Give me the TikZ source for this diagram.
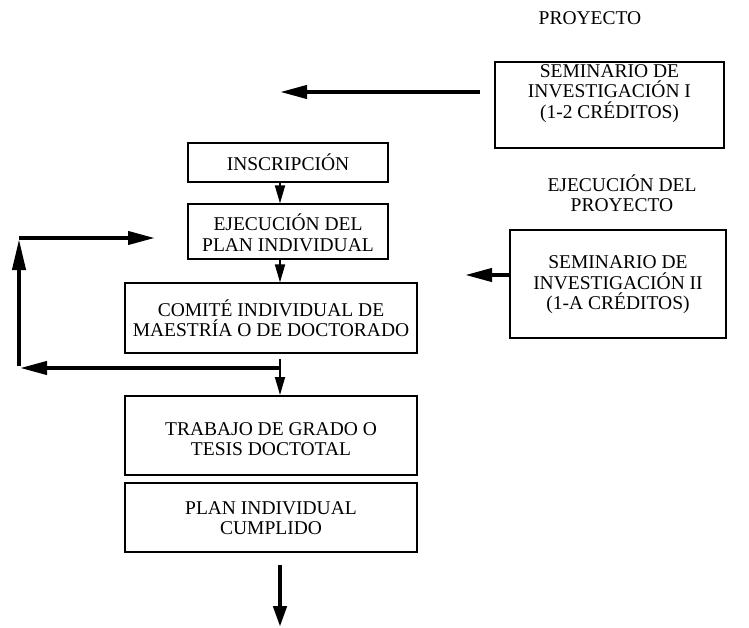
\documentclass[tikz,border=0pt]{standalone}
\usepackage{fontspec}
\setmainfont{Liberation Serif}
\usetikzlibrary{arrows.meta}
\begin{document}
\begin{tikzpicture}[x=1pt,y=-1pt,
  box/.style={draw,line width=1.2pt,inner sep=0pt},
  txt/.style={align=center,inner sep=0pt,font=\fontsize{19.5}{20.5}\selectfont},
  bigarrow/.style={line width=4pt,-{Triangle[length=27pt,width=13pt]}},
  smallarrow/.style={line width=1.8pt,-{Triangle[length=18pt,width=10pt]}},
  endarrow/.style={line width=4.5pt,-{Triangle[length=21pt,width=13pt]}}]
\useasboundingbox (0,0) rectangle (749,628);
% boxes
\node[box,minimum width=200pt,minimum height=39pt] (insc) at (288,162.5) {};
\node[txt] (insct) at (288,162.5) {INSCRIPCIÓN};
\node[box,minimum width=200pt,minimum height=55pt] (ejec) at (288,231.5) {};
\node[txt] (eject) at (288,233) {EJECUCIÓN DEL\\PLAN INDIVIDUAL};
\node[box,minimum width=292pt,minimum height=70pt] (comite) at (271,318) {};
\node[txt] (comitet) at (271,318) {COMITÉ INDIVIDUAL DE\\MAESTRÍA O DE DOCTORADO};
\node[box,minimum width=292pt,minimum height=79pt] (trab) at (271,435.5) {};
\node[txt] (trabt) at (271,439) {TRABAJO DE GRADO O\\TESIS DOCTOTAL};
\node[box,minimum width=292pt,minimum height=69pt] (plan) at (271,517.5) {};
\node[txt] (plant) at (271,518) {PLAN INDIVIDUAL\\CUMPLIDO};
\node[box,minimum width=229pt,minimum height=86pt] (sem1) at (609.5,105) {};
\node[txt] (sem1t) at (609.5,93.5) {SEMINARIO DE\\INVESTIGACIÓN I\\(1-2 CRÉDITOS)};
\node[box,minimum width=216pt,minimum height=108pt] (sem2) at (618,284) {};
\node[txt] (sem2t) at (618,285) {SEMINARIO DE\\INVESTIGACIÓN II\\(1-A CRÉDITOS)};
% free labels
\node[txt] (proy) at (590,18) {PROYECTO};
\node[txt] (ejproy) at (622,193) {EJECUCIÓN DEL\\PROYECTO};
% coordinates
\coordinate (ax) at (280,0);
\coordinate (s1a) at (480,92);
\coordinate (s1b) at (280,92);
\coordinate (s2b) at (465,275);
\coordinate (lbr) at (280,368);
\coordinate (lbl) at (19,368);
\coordinate (ltl) at (19,239);
\coordinate (ltr) at (155,238);
\coordinate (dwn) at (280,359);
\coordinate (dwnend) at (280,395);
\coordinate (fa) at (280,565);
\coordinate (fb) at (280,627);
% connectors
\draw[smallarrow] (insc.south -| ax) -- (ejec.north -| ax);
\draw[smallarrow] (ejec.south -| ax) -- (comite.north -| ax);
\draw[bigarrow] (s1a) -- (s1b);
\draw[bigarrow] (s2b -| sem2.west) -- (s2b);
\draw[bigarrow] (lbr) -- ([xshift=1pt]lbl);
\draw[bigarrow,-{Triangle[length=31pt,width=13pt]}] ([yshift=2pt]lbl) -- (ltl);
\draw[bigarrow] (lbl |- ltr) -- (ltr);
\draw[smallarrow] (dwn) -- (dwnend);
\draw[endarrow] (fa) -- (fb);
\end{tikzpicture}
\end{document}
